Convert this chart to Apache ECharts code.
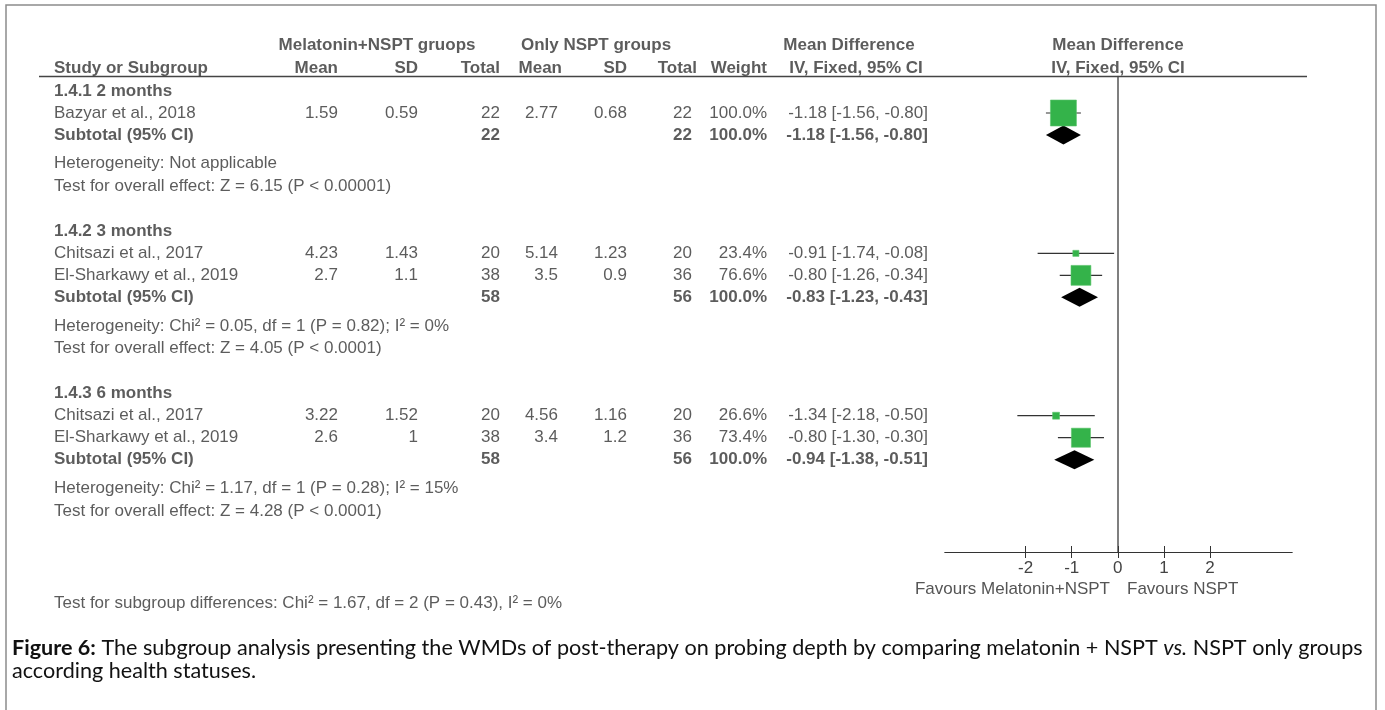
<!DOCTYPE html>
<html>
<head>
<meta charset="utf-8">
<script src="https://cdn.jsdelivr.net/npm/echarts@6.0.0/dist/echarts.min.js"></script>
<style>
html,body{margin:0;padding:0;background:#fff;}
#chart{width:1385px;height:710px;}
</style>
</head>
<body>
<div id="chart"></div>
<script>
// ---------------- DATA ----------------
const subgroupTitles = ['1.4.1 2 months', '1.4.2 3 months', '1.4.3 6 months'];
const studyGroup = [0, 1, 1, 2, 2];
const studyNames = ['Bazyar et al., 2018', 'Chitsazi et al., 2017', 'El-Sharkawy et al., 2019', 'Chitsazi et al., 2017', 'El-Sharkawy et al., 2019'];
const expMean = ['1.59', '4.23', '2.7', '3.22', '2.6'];
const expSD = ['0.59', '1.43', '1.1', '1.52', '1'];
const expTotal = [22, 20, 38, 20, 38];
const ctlMean = ['2.77', '5.14', '3.5', '4.56', '3.4'];
const ctlSD = ['0.68', '1.23', '0.9', '1.16', '1.2'];
const ctlTotal = [22, 20, 36, 20, 36];
const weight = [100.0, 23.4, 76.6, 26.6, 73.4];
const md = [-1.18, -0.91, -0.80, -1.34, -0.80];
const ciLow = [-1.56, -1.74, -1.26, -2.18, -1.30];
const ciHigh = [-0.80, -0.08, -0.34, -0.50, -0.30];

const subExpTotal = [22, 58, 58];
const subCtlTotal = [22, 56, 56];
const subWeight = [100.0, 100.0, 100.0];
const subMd = [-1.18, -0.83, -0.94];
const subLow = [-1.56, -1.23, -1.38];
const subHigh = [-0.80, -0.43, -0.51];
const heterogeneity = [
  'Heterogeneity: Not applicable',
  'Heterogeneity: Chi\u00b2 = 0.05, df = 1 (P = 0.82); I\u00b2 = 0%',
  'Heterogeneity: Chi\u00b2 = 1.17, df = 1 (P = 0.28); I\u00b2 = 15%'
];
const overallEffect = [
  'Test for overall effect: Z = 6.15 (P < 0.00001)',
  'Test for overall effect: Z = 4.05 (P < 0.0001)',
  'Test for overall effect: Z = 4.28 (P < 0.0001)'
];
const subgroupDiff = 'Test for subgroup differences: Chi\u00b2 = 1.67, df = 2 (P = 0.43), I\u00b2 = 0%';
const headerTop = ['Melatonin+NSPT gruops', 'Only NSPT groups', 'Mean Difference', 'Mean Difference'];
const headerBottom = ['Study or Subgroup', 'Mean', 'SD', 'Total', 'Mean', 'SD', 'Total', 'Weight', 'IV, Fixed, 95% CI', 'IV, Fixed, 95% CI'];
const xTicks = [-2, -1, 0, 1, 2];
const favourLabels = ['Favours Melatonin+NSPT', 'Favours NSPT'];
const captionBold = 'Figure 6:';
const captionLine1a = ' The subgroup analysis presenting the WMDs of post-therapy on probing depth by comparing melatonin + NSPT ';
const captionItalic = 'vs.';
const captionLine1b = ' NSPT only groups';
const captionLine2 = 'according health statuses.';

// ---------------- LAYOUT ----------------
const W = 1385, H = 710;
const ROW0 = 91, ROWPX = 22;           // pixel of row slot 0 and slot height
const toSlot = px => (px - ROW0) / ROWPX;
const FOREST_LEFT = 945, FOREST_RIGHT = 1292, FOREST_TOP = 76.5, AXIS_Y = 552;
const X_MIN = -3.75, X_MAX = 3.78;
const col = { study: 54, eMean: 338, eSD: 418, eTot: 500, cMean: 558, cSD: 627, cTot: 692, wt: 767, ci: 928 };
const hdrBottomX = [[54,'left'],[338,'right'],[418,'right'],[500,'right'],[562,'right'],[627,'right'],[697,'right'],[767,'right'],[856,'center'],[1118,'center']];
const hdrTopX = [377, 596, 849, 1118];
const FONT = '"Liberation Sans", Arial, sans-serif';
const FS = 17;
const TXT = '#333';
const GREEN = '#34b34a';
const CAP_FONT = 'Lato, "Open Sans", sans-serif';
const CAP_FS = 21.6;

const fmt2 = x => x.toFixed(2);
const ciText = (m, l, h) => fmt2(m) + ' [' + fmt2(l) + ', ' + fmt2(h) + ']';

const cells = [];
const studySlot = [], subSlot = [];
function cell(x, v, text, align, bold) {
  cells.push({ value: [x, v], label: { formatter: String(text), align: align, fontWeight: bold ? 'bold' : 'normal' } });
}
headerTop.forEach((t, i) => cell(hdrTopX[i], toSlot(45), t, 'center', true));
headerBottom.forEach((t, i) => cell(hdrBottomX[i][0], toSlot(68), t, hdrBottomX[i][1], true));

let v = 0;
subgroupTitles.forEach((title, g) => {
  cell(col.study, v, title, 'left', true);
  v += 1;
  studyGroup.forEach((sg, i) => {
    if (sg !== g) return;
    studySlot[i] = v;
    cell(col.study, v, studyNames[i], 'left', false);
    cell(col.eMean, v, expMean[i], 'right', false);
    cell(col.eSD, v, expSD[i], 'right', false);
    cell(col.eTot, v, expTotal[i], 'right', false);
    cell(col.cMean, v, ctlMean[i], 'right', false);
    cell(col.cSD, v, ctlSD[i], 'right', false);
    cell(col.cTot, v, ctlTotal[i], 'right', false);
    cell(col.wt, v, weight[i].toFixed(1) + '%', 'right', false);
    cell(col.ci, v, ciText(md[i], ciLow[i], ciHigh[i]), 'right', false);
    v += 1;
  });
  subSlot[g] = v;
  cell(col.study, v, 'Subtotal (95% CI)', 'left', true);
  cell(col.eTot, v, subExpTotal[g], 'right', true);
  cell(col.cTot, v, subCtlTotal[g], 'right', true);
  cell(col.wt, v, subWeight[g].toFixed(1) + '%', 'right', true);
  cell(col.ci, v, ciText(subMd[g], subLow[g], subHigh[g]), 'right', true);
  v += 1.3;
  cell(col.study, v, heterogeneity[g], 'left', false);
  v += 1.03;
  cell(col.study, v, overallEffect[g], 'left', false);
  v += 2.05;
});
cell(col.study, toSlot(603), subgroupDiff, 'left', false);

const squareData = md.map((m, i) => ({ value: [m, studySlot[i]], symbolSize: Math.max(6, 26 * weight[i] / 100) }));
const whiskerData = md.map((m, i) => [ciLow[i], ciHigh[i], studySlot[i]]);
const diamondData = subMd.map((m, g) => [subLow[g], m, subHigh[g], subSlot[g]]);

const chart = echarts.init(document.getElementById('chart'), null, { renderer: 'canvas' });
const yTable = { type: 'value', inverse: true, min: toSlot(0), max: toSlot(H), show: false, gridIndex: 0 };
const yForest = {
  type: 'value', inverse: true, min: toSlot(FOREST_TOP), max: toSlot(AXIS_Y), gridIndex: 1,
  axisLine: { show: true, onZero: true, lineStyle: { color: '#555', width: 1.5 } },
  axisTick: { show: false }, axisLabel: { show: false }, splitLine: { show: false }
};
const xForestBase = {
  type: 'value', gridIndex: 1, min: X_MIN, max: X_MAX, position: 'bottom',
  axisLine: { show: true, onZero: false, lineStyle: { color: '#333', width: 1 } },
  splitLine: { show: false }
};

chart.setOption({
  animation: false,
  backgroundColor: '#fff',
  textStyle: { fontFamily: FONT },
  grid: [
    { left: 0, top: 0, width: W, height: H },
    { left: FOREST_LEFT, top: FOREST_TOP, width: FOREST_RIGHT - FOREST_LEFT, height: AXIS_Y - FOREST_TOP }
  ],
  xAxis: [
    { type: 'value', gridIndex: 0, min: 0, max: W, show: false },
    Object.assign({}, xForestBase, {
      axisTick: { show: true, inside: false, length: 6, customValues: xTicks, lineStyle: { color: '#333' } },
      axisLabel: { show: true, customValues: xTicks, margin: 8, fontSize: FS, color: '#444', fontFamily: FONT }
    }),
    Object.assign({}, xForestBase, {
      axisTick: { show: true, inside: true, length: 6, customValues: xTicks, lineStyle: { color: '#333' } },
      axisLabel: { show: false }
    })
  ],
  yAxis: [yTable, yForest],
  series: [
    {
      type: 'scatter', xAxisIndex: 0, yAxisIndex: 0, symbolSize: 0, silent: true, clip: false,
      data: cells,
      label: { show: true, position: [0, 0], verticalAlign: 'middle', fontSize: FS, color: TXT, fontFamily: FONT },
      markLine: {
        silent: true, symbol: 'none', label: { show: false },
        lineStyle: { color: '#444', width: 1.3, type: 'solid' },
        data: [[{ coord: [39, toSlot(76.5)] }, { coord: [1307, toSlot(76.5)] }]]
      }
    },
    {
      type: 'custom', xAxisIndex: 1, yAxisIndex: 1, silent: true,
      data: whiskerData,
      renderItem: function (params, api) {
        const a = api.coord([api.value(0), api.value(2)]);
        const b = api.coord([api.value(1), api.value(2)]);
        return { type: 'line', shape: { x1: a[0], y1: a[1], x2: b[0], y2: b[1] }, style: { stroke: '#333', lineWidth: 1.2 } };
      }
    },
    {
      type: 'scatter', xAxisIndex: 1, yAxisIndex: 1, symbol: 'rect', silent: true,
      itemStyle: { color: GREEN, borderColor: '#5cc46c', borderWidth: 0.6, opacity: 1 },
      data: squareData
    },
    {
      type: 'custom', xAxisIndex: 1, yAxisIndex: 1, silent: true,
      data: diamondData,
      renderItem: function (params, api) {
        const y = api.value(3);
        const l = api.coord([api.value(0), y]);
        const m = api.coord([api.value(1), y]);
        const r = api.coord([api.value(2), y]);
        const h = 9.5;
        return { type: 'polygon', shape: { points: [[l[0], l[1]], [m[0], m[1] - h], [r[0], r[1]], [m[0], m[1] + h]] }, style: { fill: '#000' } };
      }
    }
  ],
  graphic: [
    { type: 'rect', shape: { x: 6, y: 5, width: 1370, height: 740 }, style: { fill: 'none', stroke: '#8c8c8c', lineWidth: 1.5 }, silent: true },
    { type: 'text', x: 1110, y: 589, style: { text: favourLabels[0], align: 'right', verticalAlign: 'middle', font: FS + 'px ' + FONT, fill: '#555' } },
    { type: 'text', x: 1127, y: 589, style: { text: favourLabels[1], align: 'left', verticalAlign: 'middle', font: FS + 'px ' + FONT, fill: '#555' } },
    { type: 'text', x: 12, y: 648, style: {
        text: '{b|' + captionBold + '}' + captionLine1a + '{i|' + captionItalic + '}' + captionLine1b,
        verticalAlign: 'middle', font: CAP_FS + 'px ' + CAP_FONT, fill: '#111',
        rich: { b: { fontWeight: 'bold', fontSize: CAP_FS, fontFamily: CAP_FONT, fill: '#111' }, i: { fontStyle: 'italic', fontSize: CAP_FS, fontFamily: CAP_FONT, fill: '#111' } }
      } },
    { type: 'text', x: 12, y: 671, style: { text: captionLine2, verticalAlign: 'middle', font: CAP_FS + 'px ' + CAP_FONT, fill: '#111' } }
  ]
});
</script>
</body>
</html>
